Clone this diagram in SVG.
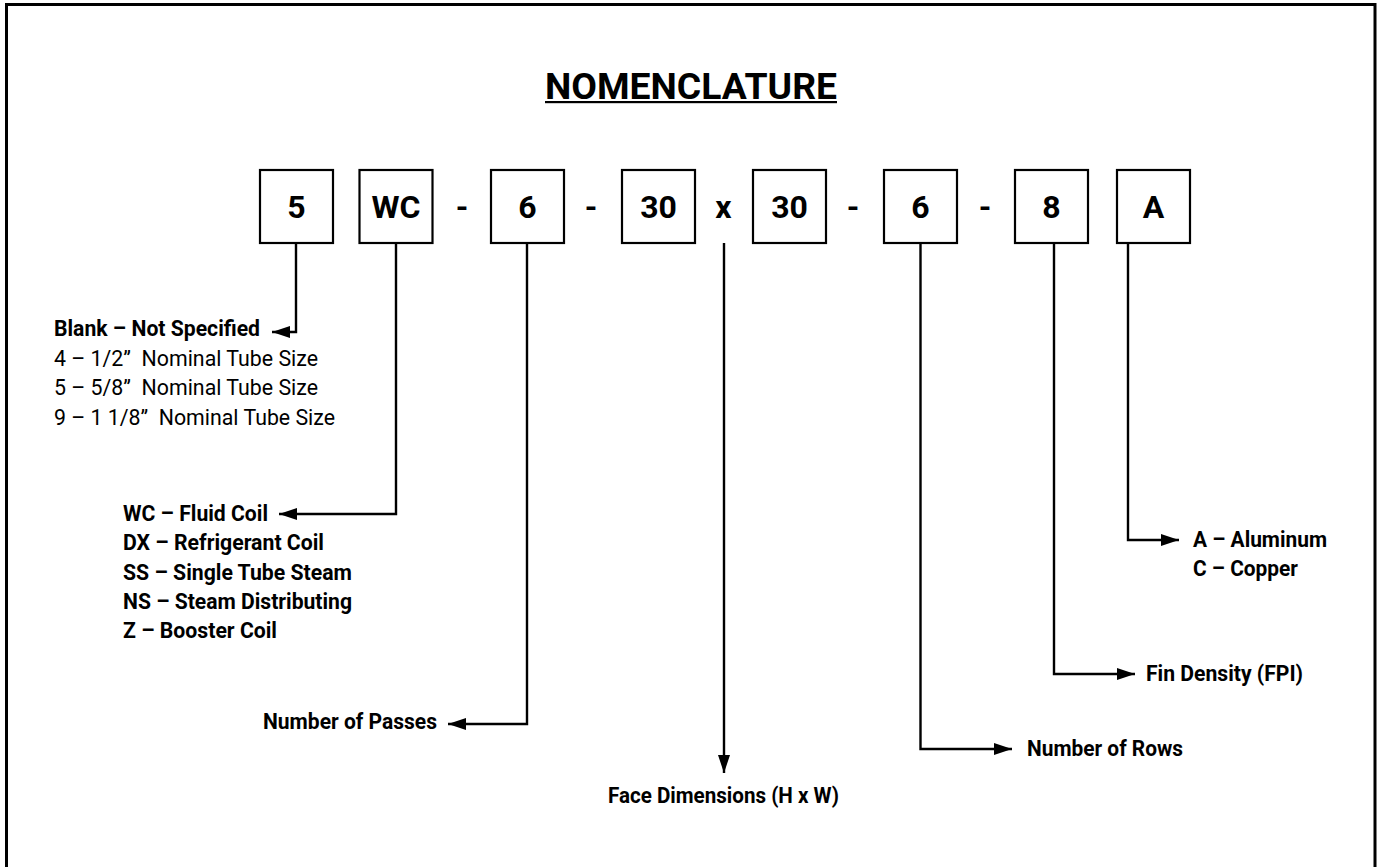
<svg xmlns="http://www.w3.org/2000/svg" width="1377" height="867" viewBox="0 0 1377 867">
<style>
.box{fill:#fff;stroke:#000;stroke-width:2.2}
.code{font-family:Roboto,"Liberation Sans",sans-serif;font-weight:700;font-size:32px;fill:#000;text-anchor:middle}
.lbl{font-family:Roboto,"Liberation Sans",sans-serif;font-weight:700;font-size:22.5px;fill:#000}
.reg{font-family:Roboto,"Liberation Sans",sans-serif;font-weight:400;font-size:22.5px;fill:#000}
.conn{fill:none;stroke:#000;stroke-width:2.4}
</style>
<defs>
<marker id="arr" markerUnits="userSpaceOnUse" markerWidth="18" markerHeight="12" refX="18" refY="6" orient="auto">
<path d="M0,0 L18,6 L0,12 Z" fill="#000"/>
</marker>
</defs>
<rect x="6.5" y="4.5" width="1368.5" height="900" fill="#fff" stroke="#000" stroke-width="3"/>
<g id="title">
<text x="545" y="99" font-family="Roboto,'Liberation Sans',sans-serif" font-weight="700" font-size="36" textLength="292" lengthAdjust="spacingAndGlyphs">NOMENCLATURE</text>
<rect x="545" y="101" width="292" height="2.2" fill="#000"/>
</g>
<g id="box-5"><rect class="box" x="260" y="170" width="73" height="73"/><text class="code" x="296.5" y="218">5</text></g>
<g id="box-wc"><rect class="box" x="359.5" y="170" width="73" height="73"/><text class="code" x="396" y="218">WC</text></g>
<g id="box-6a"><rect class="box" x="491" y="170" width="73" height="73"/><text class="code" x="527.5" y="218">6</text></g>
<g id="box-30a"><rect class="box" x="622" y="170" width="73" height="73"/><text class="code" x="658.5" y="218">30</text></g>
<g id="box-30b"><rect class="box" x="753" y="170" width="73" height="73"/><text class="code" x="789.5" y="218">30</text></g>
<g id="box-6b"><rect class="box" x="884" y="170" width="73" height="73"/><text class="code" x="920.5" y="218">6</text></g>
<g id="box-8"><rect class="box" x="1015" y="170" width="73" height="73"/><text class="code" x="1051.5" y="218">8</text></g>
<g id="box-a"><rect class="box" x="1117" y="170" width="73" height="73"/><text class="code" x="1153.5" y="218">A</text></g>
<g id="separators">
<text class="code" x="462" y="218">-</text>
<text class="code" x="591" y="218">-</text>
<text class="code" x="723.5" y="218">x</text>
<text class="code" x="853" y="218">-</text>
<text class="code" x="985" y="218">-</text>
</g>
<g id="connectors">
<path class="conn" d="M296,243 V332 H272" marker-end="url(#arr)"/>
<path class="conn" d="M396,243 V514 H279" marker-end="url(#arr)"/>
<path class="conn" d="M527,243 V724 H448" marker-end="url(#arr)"/>
<path class="conn" d="M724,243 V773" marker-end="url(#arr)"/>
<path class="conn" d="M920.5,243 V749 H1012" marker-end="url(#arr)"/>
<path class="conn" d="M1054,243 V674 H1135" marker-end="url(#arr)"/>
<path class="conn" d="M1128,243 V540 H1179" marker-end="url(#arr)"/>
</g>
<g id="label-tube">
<text class="lbl" x="54" y="336" textLength="206" lengthAdjust="spacingAndGlyphs">Blank – Not Specified</text>
<text class="reg" x="54" y="365.5" textLength="264" lengthAdjust="spacingAndGlyphs">4 – 1/2”&#160; Nominal Tube Size</text>
<text class="reg" x="54" y="395" textLength="264" lengthAdjust="spacingAndGlyphs">5 – 5/8”&#160; Nominal Tube Size</text>
<text class="reg" x="54" y="424.5" textLength="281" lengthAdjust="spacingAndGlyphs">9 – 1 1/8”&#160; Nominal Tube Size</text>
</g>
<g id="label-type">
<text class="lbl" x="123" y="521" textLength="145" lengthAdjust="spacingAndGlyphs">WC – Fluid Coil</text>
<text class="lbl" x="123" y="550" textLength="201" lengthAdjust="spacingAndGlyphs">DX – Refrigerant Coil</text>
<text class="lbl" x="123" y="579.5" textLength="229" lengthAdjust="spacingAndGlyphs">SS – Single Tube Steam</text>
<text class="lbl" x="123" y="609" textLength="229" lengthAdjust="spacingAndGlyphs">NS – Steam Distributing</text>
<text class="lbl" x="123" y="638" textLength="154" lengthAdjust="spacingAndGlyphs">Z – Booster Coil</text>
</g>
<g id="label-passes"><text class="lbl" x="263" y="729" textLength="174" lengthAdjust="spacingAndGlyphs">Number of Passes</text></g>
<g id="label-face"><text class="lbl" x="608" y="803" textLength="231" lengthAdjust="spacingAndGlyphs">Face Dimensions (H x W)</text></g>
<g id="label-rows"><text class="lbl" x="1027" y="756" textLength="156" lengthAdjust="spacingAndGlyphs">Number of Rows</text></g>
<g id="label-fin"><text class="lbl" x="1146" y="681" textLength="157" lengthAdjust="spacingAndGlyphs">Fin Density (FPI)</text></g>
<g id="label-material">
<text class="lbl" x="1193" y="547" textLength="134" lengthAdjust="spacingAndGlyphs">A – Aluminum</text>
<text class="lbl" x="1193" y="575.5" textLength="105" lengthAdjust="spacingAndGlyphs">C – Copper</text>
</g>
</svg>
